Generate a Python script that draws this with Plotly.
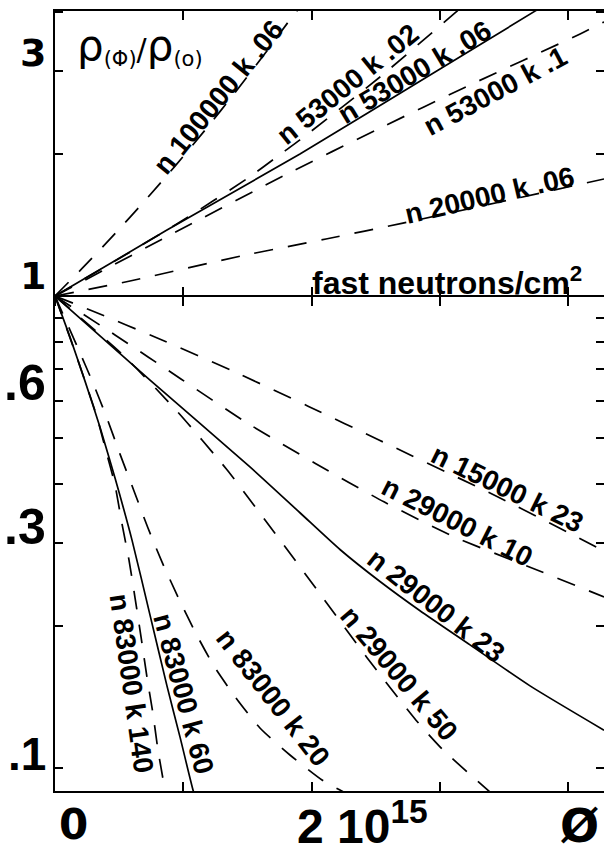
import plotly.graph_objects as go

E = 1e15  # fluence unit (fast neutrons / cm2)

# ---------------- data ----------------
# fluence in units of 1e15 n/cm2 ; ratio rho(phi)/rho(0)
n100000_k006_x = [0, .234, .468, .702, .936, 1.170, 1.404, 1.637, 1.871, 1.92]
n100000_k006_y = [1, 1.161, 1.356, 1.594, 1.886, 2.248, 2.701, 3.267, 3.981, 4.12]

n53000_k002_x = [0, .507, .975, 1.505, 1.770, 1.910, 2.534, 3.119, 3.2]
n53000_k002_y = [1, 1.204, 1.435, 1.780, 2.010, 2.143, 2.914, 3.985, 4.16]

n53000_k006_x = [0, .873, 1.910, 3.002, 3.743, 3.80]
n53000_k006_y = [1, 1.380, 2.001, 3.030, 4.02, 4.11]

n53000_k01_x = [0, .897, 1.825, 2.503, 3.236, 4.078, 4.281]
n53000_k01_y = [1, 1.347, 1.824, 2.249, 2.803, 3.578, 3.813]

n20000_k006_x = [0, .585, 1.450, 2.113, 2.713, 3.470, 4.281]
n20000_k006_y = [1, 1.076, 1.216, 1.321, 1.428, 1.583, 1.771]

n15000_k23_x = [0, .273, .834, 1.388, 1.973, 2.526, 3.470, 4.281]
n15000_k23_y = [1, .934, .807, .693, .584, .495, .373, .288]

n29000_k10_x = [0, .468, .982, 1.474, 2.027, 2.565, 3.119, 3.704, 4.281]
n29000_k10_y = [1, .827, .667, .543, .442, .366, .308, .266, .230]

n29000_k23_x = [0, .741, 1.520, 1.910, 2.222, 2.534, 2.846, 3.236, 3.704, 4.281]
n29000_k23_y = [1, .663, .434, .347, .290, .248, .215, .182, .149, .120]

n29000_k50_x = [0, .530, .951, 1.341, 1.715, 2.074, 2.433, 2.815, 3.025, 3.251, 3.392]
n29000_k50_y = [1, .750, .570, .428, .314, .232, .171, .126, .109, .0959, .0887]

n83000_k20_x = [0, .172, .296, .405, .507, .616, .725, .834, .959, 1.092, 1.240,
                1.411, 1.598, 1.832, 2.082, 2.222, 2.30]
n83000_k20_y = [1, .783, .654, .551, .462, .386, .322, .273, .230, .194, .164,
                .1404, .1213, .1063, .0941, .0896, .0872]

n83000_k60_x = [0, .117, .234, .351, .468, .600, .741, .873, .975, 1.076, 1.10]
n83000_k60_y = [1, .818, .660, .527, .411, .304, .2105, .149, .116, .0896, .0855]

n83000_k140_x = [0, .156, .320, .398, .468, .522, .577, .624, .671, .717, .764, .803, .850, .865]
n83000_k140_y = [1, .761, .562, .469, .397, .329, .2754, .229, .189, .1555, .1299, .1089, .0918, .0853]

x_ticks = [0, 1, 2, 3, 4]                     # x 1e15
y_ticks = [.1, .2, .3, .4, .5, .6, .7, .8, .9, 2, 3, 4]
y_labels = [(3, "3"), (1, "1"), (.6, ".6"), (.3, ".3"), (.1, ".1")]

series = [
    (n100000_k006_x, n100000_k006_y, "dash"),
    (n53000_k002_x, n53000_k002_y, "dash"),
    (n53000_k006_x, n53000_k006_y, "solid"),
    (n53000_k01_x, n53000_k01_y, "dash"),
    (n20000_k006_x, n20000_k006_y, "dash"),
    (n15000_k23_x, n15000_k23_y, "dash"),
    (n29000_k10_x, n29000_k10_y, "dash"),
    (n29000_k23_x, n29000_k23_y, "solid"),
    (n29000_k50_x, n29000_k50_y, "dash"),
    (n83000_k20_x, n83000_k20_y, "dash"),
    (n83000_k60_x, n83000_k60_y, "solid"),
    (n83000_k140_x, n83000_k140_y, "dash"),
]

# ---------------- figure ----------------
W, H = 604, 852
ML, MR, MT, MB = 55, 0, 11, 61
PW, PH = W - ML - MR, H - MT - MB

fig = go.Figure()
for xs, ys, style in series:
    fig.add_trace(go.Scatter(
        x=[v * E for v in xs], y=ys, mode="lines",
        line=dict(color="black", width=1.7, shape="spline", smoothing=0.6,
                  dash="19px,15px" if style == "dash" else "solid"),
        showlegend=False, hoverinfo="skip"))

# invisible helpers so that extra axes are drawn
for xa, ya in [("x2", "y"), ("x3", "y"), ("x", "y2")]:
    fig.add_trace(go.Scatter(x=[0], y=[1], xaxis=xa, yaxis=ya, mode="markers",
                             marker=dict(opacity=0), showlegend=False, hoverinfo="skip"))

XR = [0, PW / 128.25 * E]
YR = [-1.0498, 0.6045]
y_one = (0 - YR[0]) / (YR[1] - YR[0])

common_x = dict(range=XR, tickvals=[v * E for v in x_ticks], showticklabels=False,
                showgrid=False, zeroline=False, ticklen=9, tickwidth=1.6, tickcolor="black")
fig.update_layout(
    width=W, height=H, autosize=False,
    margin=dict(l=ML, r=MR, t=MT, b=MB, pad=0),
    paper_bgcolor="white", plot_bgcolor="white",
    xaxis=dict(**common_x, ticks="inside", showline=True, linewidth=2, linecolor="black",
               mirror="ticks"),
    xaxis2=dict(**common_x, overlaying="x", matches="x", anchor="free", position=y_one,
                ticks="outside", showline=True, linewidth=1.8, linecolor="black"),
    xaxis3=dict(**common_x, overlaying="x", matches="x", anchor="free", position=y_one,
                ticks="inside", showline=False),
    yaxis=dict(type="log", range=YR, tickvals=y_ticks, showticklabels=False,
               showgrid=False, zeroline=False, ticks="inside", ticklen=8, tickwidth=1.6,
               tickcolor="black", showline=True, linewidth=2, linecolor="black"),
    yaxis2=dict(type="log", range=YR, tickvals=y_ticks, showticklabels=False,
                overlaying="y", matches="y", side="right", showgrid=False, zeroline=False,
                ticks="inside", ticklen=8, tickwidth=1.6, tickcolor="black", showline=False),
)


def P(px, py):
    return dict(x=(px - ML) / PW, y=(H - MB - py) / PH, xref="paper", yref="paper")


ann = []
LBL = dict(family="Liberation Sans", size=28, color="black", weight="bold")
curve_labels = [
    ("n 100000 k .06", 218, 97, -51),
    ("n 53000 k .02", 347, 84, -39),
    ("n 53000 k .06", 414, 72, -31),
    ("n 53000 k .1", 495, 92, -28),
    ("n 20000 k .06", 489, 195, -13),
    ("n 15000 k 23", 507, 488, 26),
    ("n 29000 k 10", 457, 521, 27),
    ("n 29000 k 23", 436, 605, 38),
    ("n 29000 k 50", 399, 673, 50),
    ("n 83000 k 20", 273, 697, 52),
    ("n 83000 k 60", 184, 693, 75),
    ("n 83000 k 140", 132, 683, 82),
]
for t, px, py, ang in curve_labels:
    ann.append(dict(text=t, **P(px, py), textangle=ang, showarrow=False,
                    xanchor="center", yanchor="middle", font=LBL))

ypix = {3: 53, 1: 276, .6: 383, .3: 527, .1: 754}
yfont = {3: ("DejaVu Sans", 38), 1: ("DejaVu Sans", 38), .6: ("Liberation Sans", 50),
         .3: ("Liberation Sans", 50), .1: ("Liberation Sans", 46)}
for v, t in y_labels:
    fam, sz = yfont[v]
    ann.append(dict(text=t, **P(48, ypix[v]), showarrow=False, xanchor="right",
                    yanchor="middle", font=dict(family=fam, size=sz, color="black",
                                                weight="bold")))

ann.append(dict(text="0", **P(73, 824), showarrow=False, xanchor="center", yanchor="middle",
                font=dict(family="DejaVu Sans", size=42, color="black", weight="bold")))
ann.append(dict(text="2 10<sup>15</sup>", **P(362, 823), showarrow=False, xanchor="center",
                yanchor="middle",
                font=dict(family="Liberation Sans", size=48, color="black", weight="bold")))
ann.append(dict(text="Ø", **P(579, 826), showarrow=False, xanchor="center", yanchor="middle",
                font=dict(family="DejaVu Sans", size=46, color="black", weight="bold")))
ann.append(dict(text="fast neutrons/cm<sup>2</sup>", **P(447, 281), showarrow=False,
                xanchor="center", yanchor="middle",
                font=dict(family="Liberation Sans", size=32, color="black", weight="bold")))
ann.append(dict(text='<span style="font-size:42px">ρ</span><sub>(Φ)</sub>/'
                     '<span style="font-size:42px">ρ</span><sub>(o)</sub>',
                **P(140, 46), showarrow=False, xanchor="center", yanchor="middle",
                font=dict(family="DejaVu Sans", size=30, color="black")))
fig.update_layout(annotations=ann)

fig.write_html("out.html", config={"displayModeBar": False},
               post_script="document.body.style.margin='0';document.body.style.padding='0';")
